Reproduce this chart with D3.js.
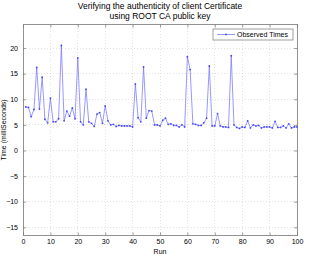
<!DOCTYPE html>
<html>
<head>
<meta charset="utf-8">
<script src="https://cdn.jsdelivr.net/npm/d3@7"></script>
<style>
  body { margin: 0; background: #fff; }
  svg text { font-family: "Liberation Sans", Arial, sans-serif; fill: #000; }
</style>
</head>
<body>
<div id="chart"></div>
<script>
// measured times per run (run 1..100)
var times = [8.5, 8.4, 6.6, 8.0, 16.2, 8.1, 14.3, 6.1, 5.4, 10.2,
             5.6, 5.6, 6.2, 20.5, 5.8, 7.7, 6.7, 8.3, 6.2, 18.1,
             5.6, 5.0, 12.0, 5.6, 5.3, 4.7, 7.1, 7.4, 5.3, 8.7,
             5.8, 5.0, 5.1, 4.7, 4.9, 4.8, 4.8, 4.8, 4.8, 4.6,
             13.0, 6.4, 5.6, 16.3, 6.3, 7.8, 7.7, 5.0, 5.0, 4.8,
             5.9, 6.3, 5.1, 5.2, 4.9, 4.9, 4.6, 5.0, 4.6, 18.3,
             15.8, 5.2, 5.1, 4.9, 4.9, 5.4, 6.3, 16.5, 4.8, 4.8,
             7.2, 4.8, 4.6, 4.6, 4.5, 18.5, 5.0, 4.5, 4.3, 4.6,
             4.5, 5.8, 4.4, 5.0, 4.8, 4.9, 4.4, 4.6, 4.6, 4.6,
             4.4, 5.7, 4.5, 4.5, 4.8, 4.4, 5.2, 4.4, 4.6, 4.6];
var xTicks = [0, 10, 20, 30, 40, 50, 60, 70, 80, 90, 100];
var yTicks = [-15, -10, -5, 0, 5, 10, 15, 20];
var titleLines = ["Verifying the authenticity of client Certificate", "using ROOT CA public key"];
var seriesName = "Observed Times";

var W = 312, H = 257;
var m = {left: 23, right: 15, top: 24.5, bottom: 21.5};
var iw = W - m.left - m.right, ih = H - m.top - m.bottom;

var svg = d3.select("#chart").append("svg")
    .attr("width", W).attr("height", H);

var x = d3.scaleLinear().domain([0, 100]).range([m.left, m.left + iw]);
var y = d3.scaleLinear().domain([-16.6, 24.6]).range([m.top + ih, m.top]);

// grid
var grid = svg.append("g").attr("class", "grid");
grid.selectAll(".gx").data(xTicks.slice(1, -1)).enter().append("line")
    .attr("x1", function(d) { return x(d); }).attr("x2", function(d) { return x(d); })
    .attr("y1", m.top).attr("y2", m.top + ih);
grid.selectAll(".gy").data(yTicks).enter().append("line")
    .attr("y1", function(d) { return y(d); }).attr("y2", function(d) { return y(d); })
    .attr("x1", m.left).attr("x2", m.left + iw);
grid.selectAll("line")
    .attr("stroke", "#d0d0d0").attr("stroke-width", 0.6)
    .attr("stroke-dasharray", "1,2").attr("shape-rendering", "crispEdges");

// axes (ticks inward, box all round)
var ax = svg.append("g").attr("transform", "translate(0," + (m.top + ih) + ")")
    .call(d3.axisBottom(x).tickValues(xTicks).tickSizeInner(-3).tickSizeOuter(0).tickPadding(4));
var axT = svg.append("g").attr("transform", "translate(0," + m.top + ")")
    .call(d3.axisTop(x).tickValues(xTicks).tickSizeInner(-3).tickSizeOuter(0).tickFormat(""));
var ay = svg.append("g").attr("transform", "translate(" + m.left + ",0)")
    .call(d3.axisLeft(y).tickValues(yTicks).tickSizeInner(-3).tickSizeOuter(0).tickPadding(5)
      .tickFormat(function(d) { return d < 0 ? "\u2212" + Math.abs(d) : d; }));
var ayR = svg.append("g").attr("transform", "translate(" + (m.left + iw) + ",0)")
    .call(d3.axisRight(y).tickValues(yTicks).tickSizeInner(-3).tickSizeOuter(0).tickFormat(""));
[ax, axT, ay, ayR].forEach(function(g) {
  g.select(".domain").remove();
  g.selectAll("line").attr("stroke", "#777").attr("stroke-width", 0.7);
  g.selectAll("text").attr("font-size", "7px").attr("fill", "#000")
    .attr("font-family", "Liberation Sans, Arial, sans-serif");
});
svg.append("rect")
    .attr("x", m.left).attr("y", m.top).attr("width", iw).attr("height", ih)
    .attr("fill", "none").attr("stroke", "#777").attr("stroke-width", 0.8)
    .attr("shape-rendering", "crispEdges");

// series
var line = d3.line()
    .x(function(d, i) { return x(i + 1); })
    .y(function(d) { return y(d); });
svg.append("path").datum(times)
    .attr("d", line).attr("fill", "none")
    .attr("stroke", "#7575ff").attr("stroke-width", 0.75);
svg.selectAll(".pt").data(times).enter().append("circle")
    .attr("class", "pt")
    .attr("cx", function(d, i) { return x(i + 1); })
    .attr("cy", function(d) { return y(d); })
    .attr("r", 0.9).attr("fill", "#4545ff");

// title
svg.append("text").attr("x", m.left + iw / 2).attr("y", 9)
    .attr("text-anchor", "middle").attr("font-size", "8.5px").text(titleLines[0]);
svg.append("text").attr("x", m.left + iw / 2).attr("y", 19)
    .attr("text-anchor", "middle").attr("font-size", "8.5px").text(titleLines[1]);

// axis labels
svg.append("text").attr("x", m.left + iw / 2).attr("y", 254)
    .attr("text-anchor", "middle").attr("font-size", "7px").text("Run");
svg.append("text")
    .attr("transform", "translate(6," + (m.top + ih / 2) + ") rotate(-90)")
    .attr("text-anchor", "middle").attr("font-size", "7px").text("Time (milliSeconds)");

// legend
var lg = svg.append("g").attr("transform", "translate(213,29)");
lg.append("rect").attr("width", 80).attr("height", 11)
    .attr("fill", "#fff").attr("stroke", "#777").attr("stroke-width", 0.7);
lg.append("line").attr("x1", 4).attr("x2", 22).attr("y1", 5.5).attr("y2", 5.5)
    .attr("stroke", "#7575ff").attr("stroke-width", 0.75);
lg.append("circle").attr("cx", 13).attr("cy", 5.5).attr("r", 0.9).attr("fill", "#4545ff");
lg.append("text").attr("x", 24).attr("y", 8).attr("font-size", "7px").text(seriesName);
</script>
</body>
</html>
